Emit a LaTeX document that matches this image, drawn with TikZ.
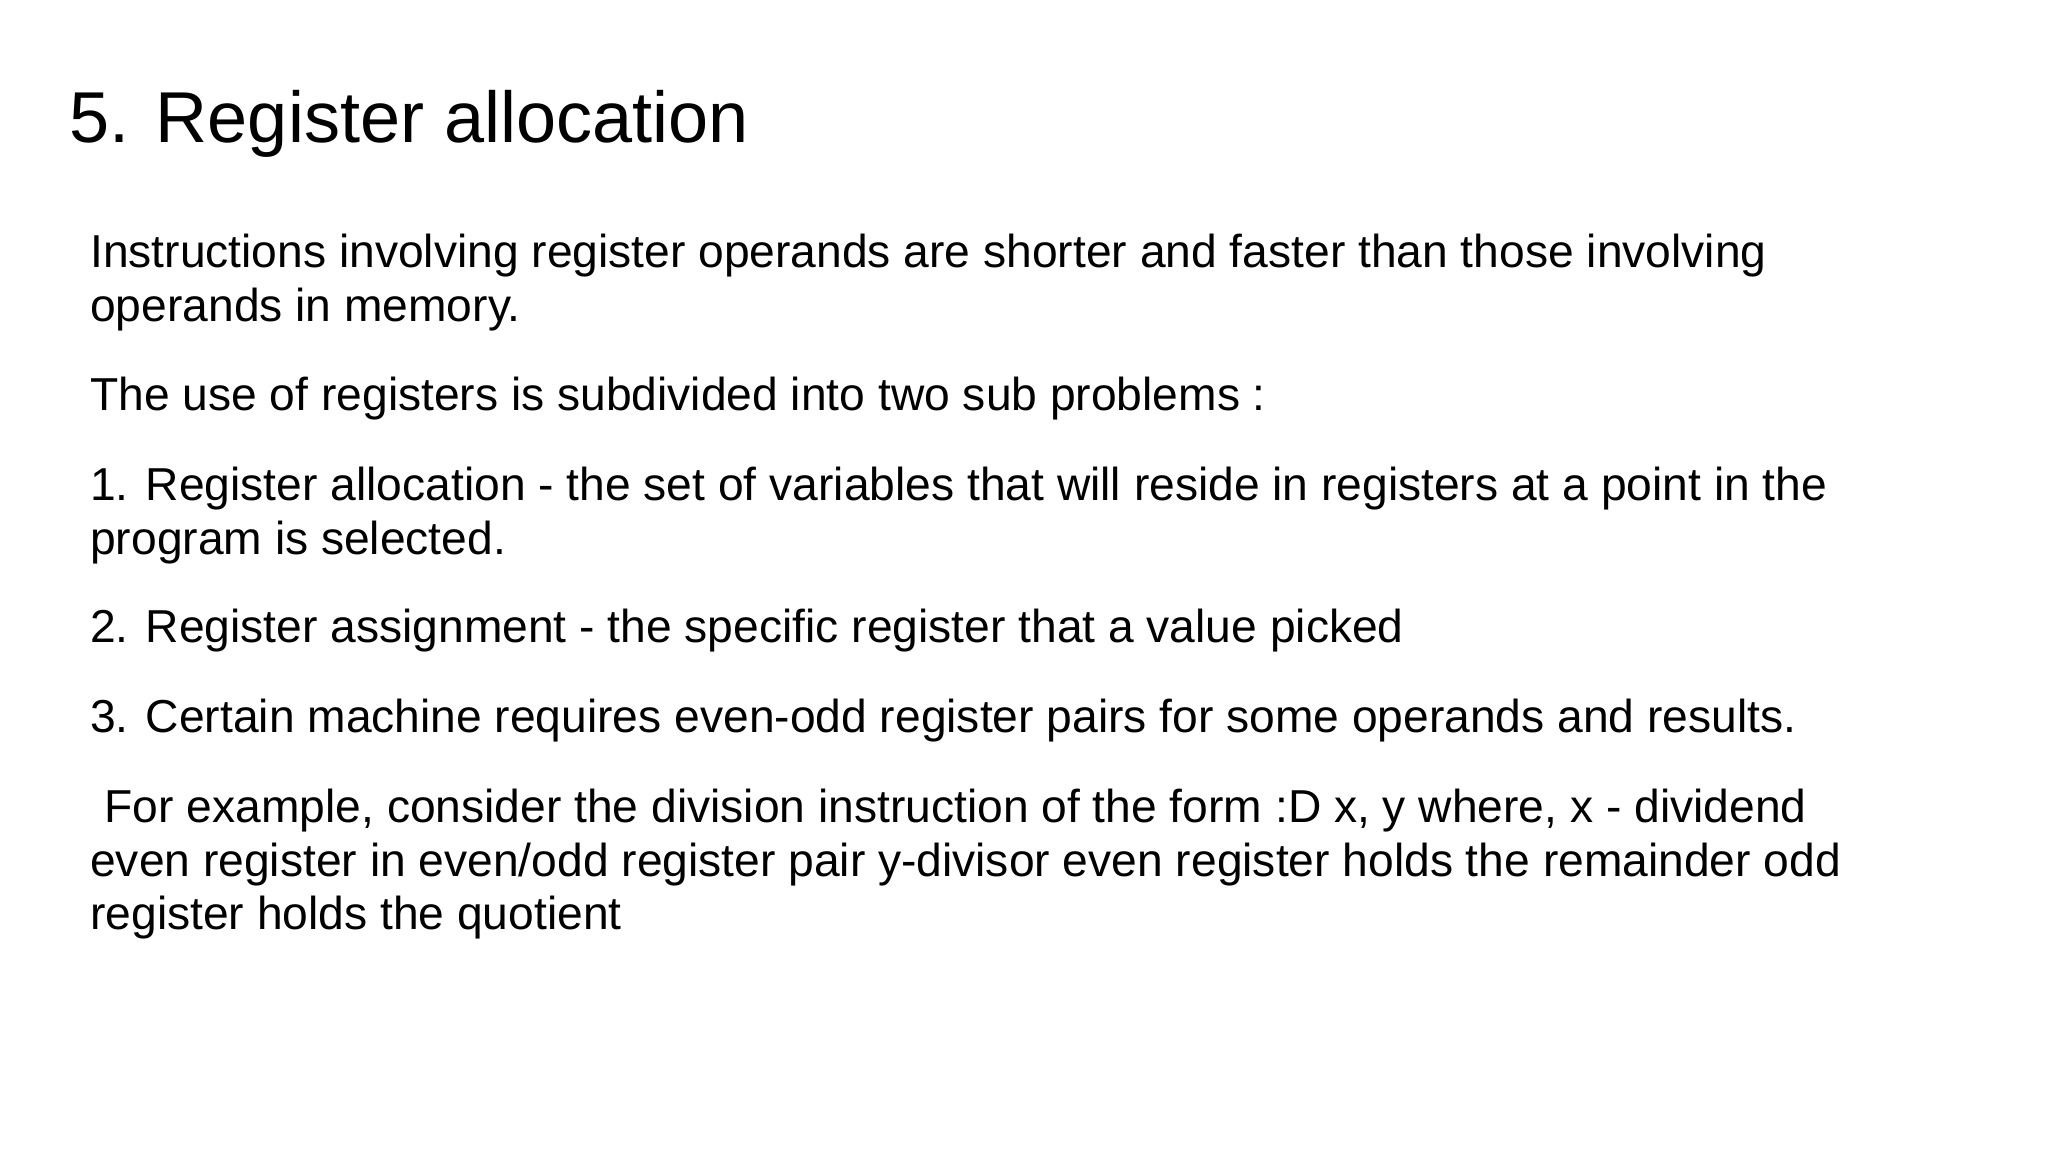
\documentclass[tikz,border=0pt]{standalone}
\usepackage{fontspec}
\setmainfont{Liberation Sans}
\begin{document}
\begin{tikzpicture}[x=0.5pt,y=-0.5pt,
  ttl/.style={anchor=base west,inner sep=0pt,font=\fontsize{27.3}{32}\selectfont},
  body/.style={anchor=base west,inner sep=0pt,font=\fontsize{17.5}{20}\selectfont}]
\useasboundingbox[fill=white] (0,0) rectangle (1552,873);
\node[ttl] (t) at (52,108) {5. Register allocation};
\node[body] (a1) at (68,203) {Instructions involving register operands are shorter and faster than those involving};
\node[body] (a2) at (68,244) {operands in memory.};
\node[body] (b1) at (68,311) {The use of registers is subdivided into two sub problems :};
\node[body] (c1) at (68,379) {1. Register allocation - the set of variables that will reside in registers at a point in the};
\node[body] (c2) at (68,420) {program is selected.};
\node[body] (d1) at (68,487) {2. Register assignment - the specific register that a value picked};
\node[body] (e1) at (68,555) {3. Certain machine requires even-odd register pairs for some operands and results.};
\node[body] (f1) at (79,623) {For example, consider the division instruction of the form :D x, y where, x - dividend};
\node[body] (f2) at (68,664) {even register in even/odd register pair y-divisor even register holds the remainder odd};
\node[body] (f3) at (68,704) {register holds the quotient};
\end{tikzpicture}
\end{document}
